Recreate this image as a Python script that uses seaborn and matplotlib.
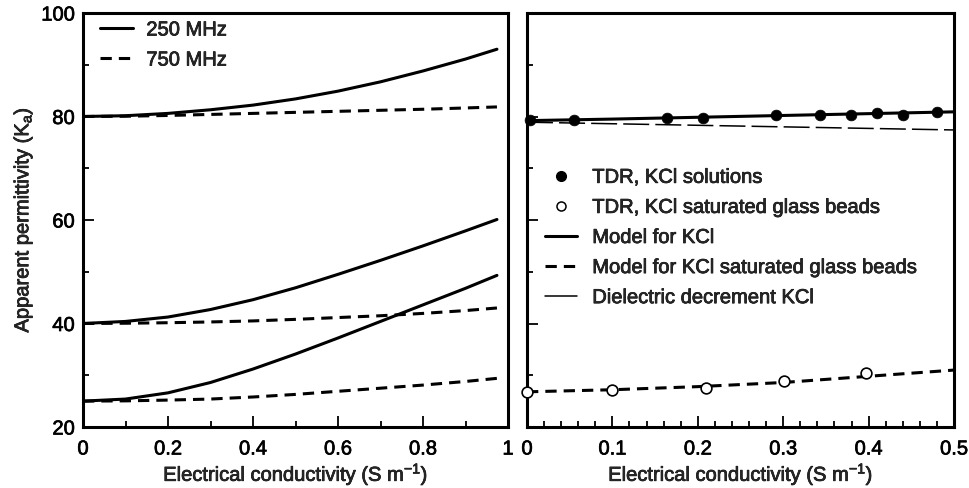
import numpy as np
import pandas as pd
import matplotlib
matplotlib.use("Agg")
import matplotlib.pyplot as plt
import matplotlib.patheffects as pe
from matplotlib.lines import Line2D
from matplotlib.ticker import MultipleLocator, FormatStrFormatter, NullFormatter
import seaborn as sns

# ---------------- data ----------------
# Left panel: modelled apparent permittivity vs. electrical conductivity
cond_model = [0.0, 0.1, 0.2, 0.3, 0.4, 0.5, 0.6, 0.7, 0.8, 0.9, 0.974]
ka_80_250 = [80.0, 80.15, 80.6, 81.3, 82.2, 83.4, 84.9, 86.7, 88.8, 91.1, 93.0]
ka_80_750 = [80.0, 80.05, 80.2, 80.4, 80.6, 80.8, 81.0, 81.2, 81.4, 81.65, 81.85]
ka_40_250 = [40.0, 40.4, 41.25, 42.7, 44.6, 46.9, 49.5, 52.2, 55.0, 57.9, 60.1]
ka_40_750 = [40.0, 40.05, 40.15, 40.3, 40.5, 40.8, 41.15, 41.5, 41.95, 42.5, 43.0]
ka_25_250 = [25.0, 25.4, 26.6, 28.6, 31.2, 34.1, 37.2, 40.4, 43.6, 46.8, 49.3]
ka_25_750 = [25.0, 25.05, 25.2, 25.4, 25.8, 26.3, 26.9, 27.5, 28.1, 28.8, 29.4]
freq_labels = ["250 MHz", "750 MHz"]

# Right panel: TDR measurements and models for KCl solutions
cond_tdr_kcl = [0.003, 0.055, 0.164, 0.206, 0.292, 0.343, 0.379, 0.410, 0.440, 0.480]
ka_tdr_kcl = [79.3, 79.3, 79.8, 79.8, 80.2, 80.2, 80.2, 80.6, 80.2, 80.8]
cond_tdr_beads = [0.0, 0.099, 0.210, 0.301, 0.397]
ka_tdr_beads = [26.8, 27.2, 27.6, 28.8, 30.4]
cond_kcl_model = [0.0, 0.1, 0.2, 0.3, 0.4, 0.5]
ka_model_kcl = [79.2, 79.5, 79.85, 80.2, 80.55, 80.9]
ka_model_beads = [26.8, 27.2, 27.8, 28.6, 29.8, 31.0]
ka_decrement = [78.9, 78.6, 78.3, 78.0, 77.7, 77.4]
right_labels = ["TDR, KCl solutions", "TDR, KCl saturated glass beads",
                "Model for KCl", "Model for KCl saturated glass beads",
                "Dielectric decrement KCl"]

xlabel = r"Electrical conductivity (S m$^{-1}$)"
ylabel = r"Apparent permittivity (K$_{a}$)"

# ---------------- style ----------------
sns.set_style("ticks")
plt.rcParams["font.family"] = ["Liberation Sans", "DejaVu Sans"]
plt.rcParams["mathtext.fontset"] = "custom"
plt.rcParams["mathtext.rm"] = "Liberation Sans"
plt.rcParams["mathtext.it"] = "Liberation Sans"
plt.rcParams["mathtext.default"] = "regular"
plt.rcParams["axes.unicode_minus"] = False
plt.rcParams["lines.solid_joinstyle"] = "round"
plt.rcParams["lines.dash_joinstyle"] = "round"
FS = 14.5
LW = 2.2
DASH = (3.7, 2.3)
heavy = [pe.withStroke(linewidth=0.5, foreground="black")]

fig = plt.figure(figsize=(9.69, 4.89), dpi=100)
axL = fig.add_axes([83 / 969, 61 / 489, 425 / 969, 414 / 489])
axR = fig.add_axes([527 / 969, 61 / 489, 427 / 969, 414 / 489])

# ---------------- left panel ----------------
rows = []
for medium, s250, s750 in [("80", ka_80_250, ka_80_750),
                           ("40", ka_40_250, ka_40_750),
                           ("25", ka_25_250, ka_25_750)]:
    for f, series in zip(freq_labels, (s250, s750)):
        for c, k in zip(cond_model, series):
            rows.append({"cond": c, "ka": k, "freq": f, "medium": medium + f})
df_left = pd.DataFrame(rows)

sns.lineplot(data=df_left, x="cond", y="ka", style="freq", units="medium",
             estimator=None, color="black", lw=LW, sort=False,
             dashes={"250 MHz": "", "750 MHz": DASH}, legend=False, ax=axL)

handles_left = [Line2D([], [], color="black", lw=LW),
                Line2D([], [], color="black", lw=LW, dashes=DASH)]
legL = axL.legend(handles_left, freq_labels, loc="upper left",
                  bbox_to_anchor=(0.04, 0.982), frameon=False, fontsize=FS,
                  handlelength=1.65, handletextpad=0.65, labelspacing=0.55,
                  borderpad=0, borderaxespad=0)

# ---------------- right panel ----------------
df_model = pd.DataFrame({"cond": cond_kcl_model, "kcl": ka_model_kcl,
                         "beads": ka_model_beads, "decr": ka_decrement})
sns.lineplot(data=df_model, x="cond", y="kcl", color="black", lw=LW, ax=axR)
sns.lineplot(data=df_model, x="cond", y="beads", color="black", lw=LW,
             dashes=DASH, ax=axR)
sns.lineplot(data=df_model, x="cond", y="decr", color="black", lw=1.1,
             dashes=(17, 4), ax=axR)

df_kcl = pd.DataFrame({"cond": cond_tdr_kcl, "ka": ka_tdr_kcl})
df_beads = pd.DataFrame({"cond": cond_tdr_beads, "ka": ka_tdr_beads})
sns.scatterplot(data=df_kcl, x="cond", y="ka", color="black", s=60,
                edgecolor="black", linewidth=0.5, zorder=5, clip_on=False, ax=axR)
sns.scatterplot(data=df_beads, x="cond", y="ka", facecolor="white", s=60,
                edgecolor="black", linewidth=1.2, zorder=5, clip_on=False, ax=axR)

handles_right = [
    Line2D([], [], ls="none", marker="o", ms=7, mfc="black", mec="black"),
    Line2D([], [], ls="none", marker="o", ms=6.5, mfc="white", mec="black", mew=1.1),
    Line2D([], [], color="black", lw=LW),
    Line2D([], [], color="black", lw=LW, dashes=DASH),
    Line2D([], [], color="black", lw=1.1),
]
legR = axR.legend(handles_right, right_labels, loc="upper left",
                  bbox_to_anchor=(0.042, 0.626), frameon=False, fontsize=FS,
                  handlelength=1.6, handletextpad=0.75, labelspacing=0.55,
                  borderpad=0, borderaxespad=0)

# ---------------- axes formatting ----------------
for ax in (axL, axR):
    ax.set_ylim(20, 100)
    ax.yaxis.set_major_locator(MultipleLocator(20))
    ax.yaxis.set_minor_locator(MultipleLocator(10))
    ax.tick_params(which="both", direction="in", width=1.3, colors="black",
                   labelsize=FS, top=False, right=False)
    ax.tick_params(which="major", length=8)
    ax.tick_params(axis="x", which="major", pad=9)
    ax.tick_params(axis="y", which="major", pad=6)
    ax.tick_params(which="minor", length=4.5)
    for sp in ax.spines.values():
        sp.set_linewidth(2.2)
        sp.set_color("black")
    ax.set_xlabel(xlabel, fontsize=FS, labelpad=2)
    ax.set_ylabel("")

axL.set_xlim(0, 1)
axL.xaxis.set_major_locator(MultipleLocator(0.2))
axL.xaxis.set_minor_locator(MultipleLocator(0.1))
axL.xaxis.set_major_formatter(FormatStrFormatter("%g"))
axL.yaxis.set_major_formatter(FormatStrFormatter("%g"))
axL.set_ylabel(ylabel, fontsize=FS, labelpad=5)

axR.set_xlim(0, 0.5)
axR.xaxis.set_major_locator(MultipleLocator(0.1))
axR.xaxis.set_minor_locator(MultipleLocator(0.02))
axR.xaxis.set_major_formatter(FormatStrFormatter("%g"))
axR.yaxis.set_major_formatter(NullFormatter())

# slightly heavier lettering, like a printed figure
texts = []
for ax in (axL, axR):
    texts += ax.get_xticklabels() + ax.get_yticklabels()
    texts += [ax.xaxis.label, ax.yaxis.label]
texts += legL.get_texts() + legR.get_texts()
for t in texts:
    t.set_path_effects(heavy)

fig.savefig("out.png", dpi=100)
